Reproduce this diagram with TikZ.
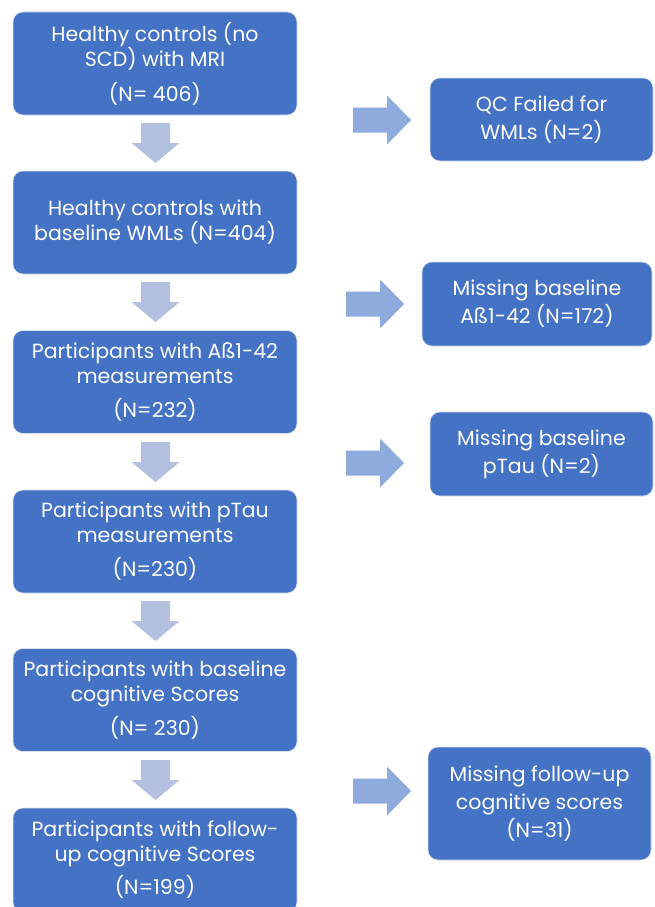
\documentclass[tikz,border=0pt]{standalone}
\usepackage{fontspec}
\setmainfont{Poppins}
\definecolor{boxblue}{HTML}{4472C4}
\definecolor{downarr}{HTML}{B4C0E0}
\definecolor{rightarr}{HTML}{8FAADC}
\tikzset{
  flowbox/.style={fill=boxblue, draw=white!80!boxblue, line width=0.6pt, rounded corners=10pt,
    text=white, align=center, inner sep=0pt, font=\fontsize{20.5}{25}\selectfont},
  leftbox/.style={flowbox, minimum width=284pt, minimum height=103pt},
  rightbox/.style={flowbox, minimum width=223pt, font=\fontsize{20.5}{28}\selectfont},
  downarrow/.style={fill=downarr, draw=none},
  rightarrow/.style={fill=rightarr, draw=none},
}
\newcommand{\downarr}[2]{% x center, y top
  \fill[downarrow] (#1-14.5,#2) -- (#1+14.5,#2) -- (#1+14.5,#2+20) -- (#1+24,#2+20) -- (#1,#2+40) -- (#1-24,#2+20) -- (#1-14.5,#2+20) -- cycle;}
\newcommand{\rightarr}[2]{% x left, y center
  \fill[rightarrow] (#1,#2-12.5) -- (#1+34,#2-12.5) -- (#1+34,#2-24.5) -- (#1+58,#2) -- (#1+34,#2+24.5) -- (#1+34,#2+12.5) -- (#1,#2+12.5) -- cycle;}
\begin{document}
\begin{tikzpicture}[x=1pt,y=-1pt]
\useasboundingbox (0,0) rectangle (655,907);
\fill[white] (0,0) rectangle (655,907);
% left column
\node[leftbox] (b1) at (155,63.5) {Healthy controls (no\\SCD) with MRI\\[10pt](N= 406)};
\node[leftbox] (b2) at (155,222.5) {Healthy controls with\\baseline WMLs (N=404)};
\node[leftbox] (b3) at (155,382) {Participants with Aß1-42\\measurements\\[9pt](N=232)};
\node[leftbox] (b4) at (155,541.5) {Participants with pTau\\measurements\\[9pt](N=230)};
\node[leftbox] (b5) at (155,700) {Participants with baseline\\cognitive Scores\\[9pt](N= 230)};
\node[leftbox, minimum height=104pt] (b6) at (155,860) {Participants with follow-\\up cognitive Scores\\[8pt](N=199)};
% right column
\node[rightbox, minimum height=83pt] (r1) at (541.5,119.5) {QC Failed for\\WMLs (N=2)};
\node[rightbox, minimum width=230pt, minimum height=84pt] (r2) at (537,304) {Missing baseline\\Aß1-42 (N=172)};
\node[rightbox, minimum height=84pt] (r3) at (541.5,454) {Missing baseline\\pTau (N=2)};
\node[rightbox, minimum height=113pt] (r4) at (539.5,803.5) {Missing follow-up\\cognitive scores\\(N=31)};
% down arrows
\downarr{155.5}{123}
\downarr{155.5}{282}
\downarr{155.5}{442}
\downarr{155.5}{601}
\downarr{155.5}{760}
% right arrows
\rightarr{353}{120}
\rightarr{346}{304}
\rightarr{346}{463}
\rightarr{353}{791}
\end{tikzpicture}
\end{document}
